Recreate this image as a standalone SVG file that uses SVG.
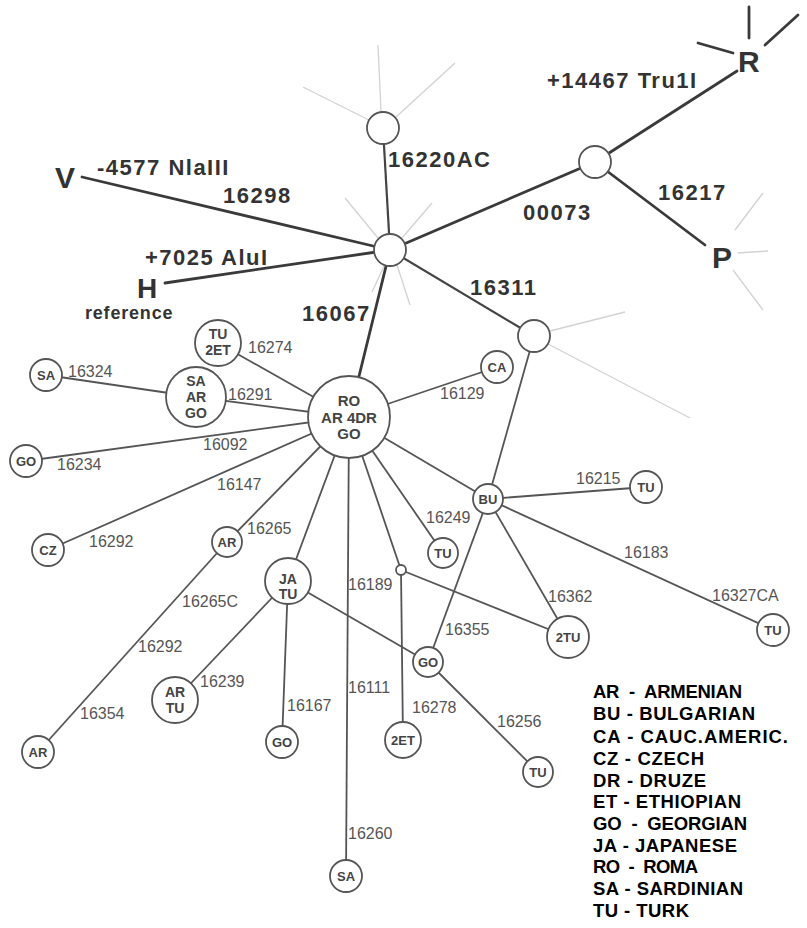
<svg xmlns="http://www.w3.org/2000/svg" width="807" height="928" viewBox="0 0 807 928">
<style>
.thick{stroke:#3a3a3a;stroke-width:2.8;fill:none;stroke-linecap:round}
.med{stroke:#444;stroke-width:2.2;fill:none}
.ln{stroke:#555;stroke-width:1.8;fill:none}
.faint{stroke:#d2d2d2;stroke-width:1.3;fill:none}
.nd{fill:#fff;stroke:#555;stroke-width:1.8}
.big{font-family:"Liberation Sans",Arial,sans-serif;font-weight:bold;font-size:22px;letter-spacing:1.5px;fill:#333}
.let{font-family:"Liberation Sans",Arial,sans-serif;font-weight:bold;font-size:30px;fill:#333}
.el{font-family:"Liberation Sans",Arial,sans-serif;font-size:16px;fill:#555}
.nl{font-family:"Liberation Sans",Arial,sans-serif;font-weight:bold;font-size:13px;fill:#444;text-anchor:middle}
.nl2{font-family:"Liberation Sans",Arial,sans-serif;font-weight:bold;font-size:14px;fill:#444;text-anchor:middle}
.lg{font-family:"Liberation Sans",Arial,sans-serif;font-weight:bold;font-size:18.5px;fill:#000}
</style>
<rect width="807" height="928" fill="#fff"/>
<g id="connectors">
<line class="faint" x1="378" y1="45" x2="381" y2="112"/>
<line class="faint" x1="303" y1="87" x2="369" y2="120"/>
<line class="faint" x1="455" y1="63" x2="396" y2="117"/>
<line class="faint" x1="345" y1="198" x2="378" y2="238"/>
<line class="faint" x1="432" y1="203" x2="402" y2="238"/>
<line class="faint" x1="384" y1="266" x2="372" y2="292"/>
<line class="faint" x1="397" y1="265" x2="410" y2="305"/>
<line class="faint" x1="738" y1="253" x2="768" y2="251"/>
<line class="faint" x1="735" y1="230" x2="763" y2="193"/>
<line class="faint" x1="733" y1="270" x2="763" y2="310"/>
<line class="faint" x1="550" y1="331" x2="625" y2="312"/>
<line class="faint" x1="548" y1="344" x2="690" y2="418"/>
<line class="thick" x1="749" y1="7" x2="749" y2="38"/>
<line class="thick" x1="798" y1="15" x2="765" y2="45"/>
<line class="thick" x1="698" y1="43" x2="733" y2="53"/>
<line class="thick" x1="82" y1="177" x2="390" y2="250"/>
<line class="thick" x1="165" y1="283" x2="390" y2="250"/>
<line class="thick" x1="390" y1="250" x2="595" y2="162"/>
<line class="thick" x1="595" y1="162" x2="737" y2="71"/>
<line class="thick" x1="595" y1="162" x2="705" y2="245"/>
<line class="thick" x1="390" y1="250" x2="349" y2="417"/>
<line class="med" x1="390" y1="250" x2="383" y2="128"/>
<line class="med" x1="390" y1="250" x2="534" y2="336"/>
<line class="ln" x1="534" y1="336" x2="488" y2="499"/>
<line class="ln" x1="349" y1="417" x2="218" y2="343"/>
<line class="ln" x1="46" y1="375" x2="196" y2="397"/>
<line class="ln" x1="196" y1="397" x2="349" y2="417"/>
<line class="ln" x1="26" y1="461" x2="349" y2="417"/>
<line class="ln" x1="48" y1="550" x2="349" y2="417"/>
<line class="ln" x1="227" y1="542" x2="349" y2="417"/>
<line class="ln" x1="227" y1="542" x2="38" y2="752"/>
<line class="ln" x1="288" y1="581" x2="349" y2="417"/>
<line class="ln" x1="349" y1="417" x2="346" y2="876"/>
<line class="ln" x1="349" y1="417" x2="401" y2="570"/>
<line class="ln" x1="401" y1="570" x2="403" y2="740"/>
<line class="ln" x1="401" y1="570" x2="568" y2="637"/>
<line class="ln" x1="349" y1="417" x2="443" y2="553"/>
<line class="ln" x1="349" y1="417" x2="488" y2="499"/>
<line class="ln" x1="349" y1="417" x2="497" y2="367"/>
<line class="ln" x1="488" y1="499" x2="646" y2="487"/>
<line class="ln" x1="488" y1="499" x2="773" y2="630"/>
<line class="ln" x1="488" y1="499" x2="568" y2="637"/>
<line class="ln" x1="488" y1="499" x2="428" y2="662"/>
<line class="ln" x1="288" y1="581" x2="428" y2="662"/>
<line class="ln" x1="428" y1="662" x2="538" y2="772"/>
<line class="ln" x1="288" y1="581" x2="175" y2="700"/>
<line class="ln" x1="288" y1="581" x2="282" y2="742"/>
</g>
<g id="hub"><circle class="nd" cx="390" cy="250" r="16"/></g>
<g id="top-node"><circle class="nd" cx="383" cy="128" r="16"/></g>
<g id="right-node"><circle class="nd" cx="595" cy="162" r="16"/></g>
<g id="lower-right-node"><circle class="nd" cx="534" cy="336" r="16"/></g>
<g id="V"><text class="let" x="55" y="188">V</text></g>
<g id="H"><text class="let" x="137" y="298" style="font-size:28px">H</text><text x="85" y="319" style="font-family:'Liberation Sans',Arial,sans-serif;font-weight:bold;font-size:18px;letter-spacing:0.8px;fill:#333">reference</text></g>
<g id="R"><text class="let" x="738" y="72">R</text></g>
<g id="P"><text class="let" x="712" y="268">P</text></g>
<g id="RO"><circle class="nd" cx="349" cy="417" r="41"/><text class="nl2" x="349" y="406" style="font-size:15px">RO</text><text class="nl2" x="349" y="423" style="font-size:15px">AR 4DR</text><text class="nl2" x="349" y="439" style="font-size:15px">GO</text></g>
<g id="TU2ET"><circle class="nd" cx="218" cy="343" r="23"/><text class="nl2" x="218" y="339">TU</text><text class="nl2" x="218" y="355">2ET</text></g>
<g id="SA1"><circle class="nd" cx="46" cy="375" r="16"/><text class="nl" x="46" y="380">SA</text></g>
<g id="SAARGO"><circle class="nd" cx="196" cy="397" r="30"/><text class="nl2" x="196" y="386">SA</text><text class="nl2" x="196" y="402">AR</text><text class="nl2" x="196" y="418">GO</text></g>
<g id="GO1"><circle class="nd" cx="26" cy="461" r="16"/><text class="nl" x="26" y="466">GO</text></g>
<g id="CZ"><circle class="nd" cx="48" cy="550" r="16"/><text class="nl" x="48" y="555">CZ</text></g>
<g id="AR1"><circle class="nd" cx="227" cy="542" r="15"/><text class="nl" x="227" y="547">AR</text></g>
<g id="AR2"><circle class="nd" cx="38" cy="752" r="16"/><text class="nl" x="38" y="757">AR</text></g>
<g id="JATU"><circle class="nd" cx="288" cy="581" r="23"/><text class="nl2" x="288" y="584">JA</text><text class="nl2" x="288" y="599">TU</text></g>
<g id="ARTU"><circle class="nd" cx="175" cy="700" r="23"/><text class="nl2" x="175" y="697">AR</text><text class="nl2" x="175" y="713">TU</text></g>
<g id="GO2"><circle class="nd" cx="282" cy="742" r="16"/><text class="nl" x="282" y="747">GO</text></g>
<g id="SA2"><circle class="nd" cx="346" cy="876" r="16"/><text class="nl" x="346" y="881">SA</text></g>
<g id="small"><circle class="nd" cx="401" cy="570" r="5"/></g>
<g id="ET2"><circle class="nd" cx="403" cy="740" r="18"/><text class="nl" x="403" y="745">2ET</text></g>
<g id="TU2"><circle class="nd" cx="568" cy="637" r="21"/><text class="nl" x="568" y="642">2TU</text></g>
<g id="TU1"><circle class="nd" cx="443" cy="553" r="15"/><text class="nl" x="443" y="558">TU</text></g>
<g id="BU"><circle class="nd" cx="488" cy="499" r="15"/><text class="nl" x="488" y="504">BU</text></g>
<g id="CA"><circle class="nd" cx="497" cy="367" r="16"/><text class="nl" x="497" y="372">CA</text></g>
<g id="TU3"><circle class="nd" cx="646" cy="487" r="16"/><text class="nl" x="646" y="492">TU</text></g>
<g id="TU4"><circle class="nd" cx="773" cy="630" r="16"/><text class="nl" x="773" y="635">TU</text></g>
<g id="GO3"><circle class="nd" cx="428" cy="662" r="15"/><text class="nl" x="428" y="667">GO</text></g>
<g id="TU5"><circle class="nd" cx="538" cy="772" r="15"/><text class="nl" x="538" y="777">TU</text></g>
<g id="labels">
<text class="big" x="97" y="175">-4577 NlaIII</text>
<text class="big" x="223" y="203">16298</text>
<text class="big" x="145" y="265">+7025 AluI</text>
<text class="big" x="388" y="167">16220AC</text>
<text class="big" x="547" y="88">+14467 Tru1I</text>
<text class="big" x="523" y="220">00073</text>
<text class="big" x="658" y="200">16217</text>
<text class="big" x="470" y="295">16311</text>
<text class="big" x="302" y="321">16067</text>
<text class="el" x="248" y="353">16274</text>
<text class="el" x="68" y="377">16324</text>
<text class="el" x="228" y="400">16291</text>
<text class="el" x="203" y="450">16092</text>
<text class="el" x="57" y="470">16234</text>
<text class="el" x="217" y="490">16147</text>
<text class="el" x="89" y="547">16292</text>
<text class="el" x="247" y="534">16265</text>
<text class="el" x="182" y="607">16265C</text>
<text class="el" x="348" y="590">16189</text>
<text class="el" x="440" y="399">16129</text>
<text class="el" x="426" y="523">16249</text>
<text class="el" x="576" y="484">16215</text>
<text class="el" x="624" y="558">16183</text>
<text class="el" x="712" y="601">16327CA</text>
<text class="el" x="548" y="602">16362</text>
<text class="el" x="445" y="635">16355</text>
<text class="el" x="138" y="652">16292</text>
<text class="el" x="80" y="719">16354</text>
<text class="el" x="200" y="687">16239</text>
<text class="el" x="287" y="711">16167</text>
<text class="el" x="348" y="693">16111</text>
<text class="el" x="412" y="713">16278</text>
<text class="el" x="497" y="727">16256</text>
<text class="el" x="348" y="839">16260</text>
</g>
<g id="legend">
<text class="lg" x="593" y="698" xml:space="preserve" textLength="149" lengthAdjust="spacing">AR  -  ARMENIAN</text>
<text class="lg" x="593" y="720" textLength="162" lengthAdjust="spacing">BU - BULGARIAN</text>
<text class="lg" x="593" y="743" textLength="195" lengthAdjust="spacing">CA - CAUC.AMERIC.</text>
<text class="lg" x="593" y="765" textLength="111" lengthAdjust="spacing">CZ - CZECH</text>
<text class="lg" x="593" y="787" textLength="113" lengthAdjust="spacing">DR - DRUZE</text>
<text class="lg" x="593" y="808" textLength="148" lengthAdjust="spacing">ET - ETHIOPIAN</text>
<text class="lg" x="593" y="830" xml:space="preserve" textLength="154" lengthAdjust="spacing">GO  -  GEORGIAN</text>
<text class="lg" x="593" y="852" textLength="144" lengthAdjust="spacing">JA - JAPANESE</text>
<text class="lg" x="593" y="873" xml:space="preserve" textLength="105" lengthAdjust="spacing">RO  -  ROMA</text>
<text class="lg" x="593" y="895" textLength="150" lengthAdjust="spacing">SA - SARDINIAN</text>
<text class="lg" x="593" y="917" textLength="96" lengthAdjust="spacing">TU - TURK</text>
</g>
</svg>
